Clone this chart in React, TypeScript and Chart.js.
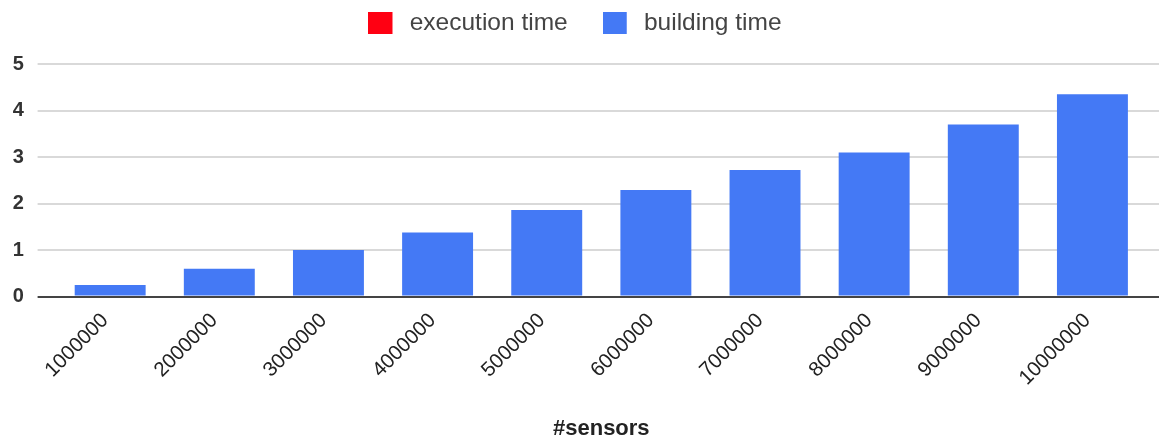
import React, { useEffect, useRef } from "react";
import { Chart, registerables } from "chart.js";

Chart.register(...registerables);

const categories = ["1000000", "2000000", "3000000", "4000000", "5000000", "6000000", "7000000", "8000000", "9000000", "10000000"];
const executionTime = [0, 0, 0, 0, 0, 0, 0, 0, 0, 0];
const buildingTime = [0.25, 0.6, 1.0, 1.38, 1.86, 2.29, 2.72, 3.1, 3.7, 4.35];
const yTicks = [0, 1, 2, 3, 4, 5];
const xTitle = "#sensors";
const seriesNames = ["execution time", "building time"];

const RED = "#ff0012";
const BLUE = "#4479f5";
const FONT = "'Liberation Sans', Arial, sans-serif";

function legendSwatch(color: string) {
  const c = document.createElement("canvas");
  c.width = 29;
  c.height = 22;
  const g = c.getContext("2d")!;
  g.fillStyle = color;
  g.fillRect(0, 0, 24, 22);
  return c;
}

export default function App() {
  const ref = useRef<HTMLCanvasElement | null>(null);
  useEffect(() => {
    document.body.style.margin = "0";
    const gridColor = (ctx: any) => (ctx.tick && ctx.tick.value === 0 ? "#444" : "#d9d9d9");
    const chart = new Chart(ref.current!, {
      type: "bar",
      data: {
        labels: categories,
        datasets: [
          {
            label: seriesNames[0],
            data: executionTime,
            backgroundColor: RED,
            pointStyle: legendSwatch(RED) as any,
            categoryPercentage: 1,
            barPercentage: 0.65,
          },
          {
            label: seriesNames[1],
            data: buildingTime,
            backgroundColor: BLUE,
            pointStyle: legendSwatch(BLUE) as any,
            categoryPercentage: 1,
            barPercentage: 0.65,
          },
        ],
      },
      options: {
        animation: false,
        responsive: true,
        maintainAspectRatio: false,
        layout: { padding: { left: -9, top: -24.5, right: 0, bottom: 0 } },
        plugins: {
          tooltip: { enabled: false },
          title: {
            display: true,
            text: "",
            weight: 500,
            padding: 0,
            font: { size: 19, lineHeight: 1 },
          } as any,
          legend: {
            position: "top",
            labels: {
              usePointStyle: true,
              pointStyleWidth: 29,
              boxHeight: 22,
              padding: 35,
              color: "#444",
              font: { family: FONT, size: 24.5 },
            },
          },
        },
        scales: {
          x: {
            stacked: true,
            grid: { display: false },
            border: { display: true, color: "#444", width: 1 },
            afterFit: (axis: any) => {
              axis.paddingLeft = 0;
              axis.paddingRight = 0;
            },
            ticks: {
              color: "#222",
              font: { family: FONT, size: 20.5 },
              maxRotation: 45,
              minRotation: 45,
              padding: 4,
              labelOffset: -5,
              autoSkip: false,
            },
            title: {
              display: true,
              text: xTitle,
              color: "#222",
              font: { family: FONT, size: 22, weight: "bold", lineHeight: 1 },
              padding: { top: 23.5, bottom: 0 },
            },
          },
          y: {
            stacked: true,
            min: 0,
            max: 5,
            afterBuildTicks: (axis: any) => {
              axis.ticks = yTicks.map((v) => ({ value: v }));
            },
            afterFit: (axis: any) => {
              axis.width = 64.6;
            },
            grid: {
              color: gridColor,
              tickColor: gridColor,
              tickLength: 18,
              lineWidth: 2,
            },
            border: { display: false },
            ticks: {
              color: "#333",
              font: { family: FONT, size: 20, weight: "bold" },
              padding: 13.75,
            },
          },
          yRight: {
            position: "right",
            min: 0,
            max: 5,
            afterBuildTicks: (axis: any) => {
              axis.ticks = yTicks.map((v) => ({ value: v }));
            },
            grid: {
              drawOnChartArea: false,
              color: gridColor,
              tickColor: gridColor,
              tickLength: 12,
              lineWidth: 2,
            },
            border: { display: false },
            ticks: { display: false },
          },
        },
      },
    });
    return () => chart.destroy();
  }, []);
  return (
    <div style={{ width: 1159, height: 440, position: "relative" }}>
      <canvas ref={ref} />
    </div>
  );
}
